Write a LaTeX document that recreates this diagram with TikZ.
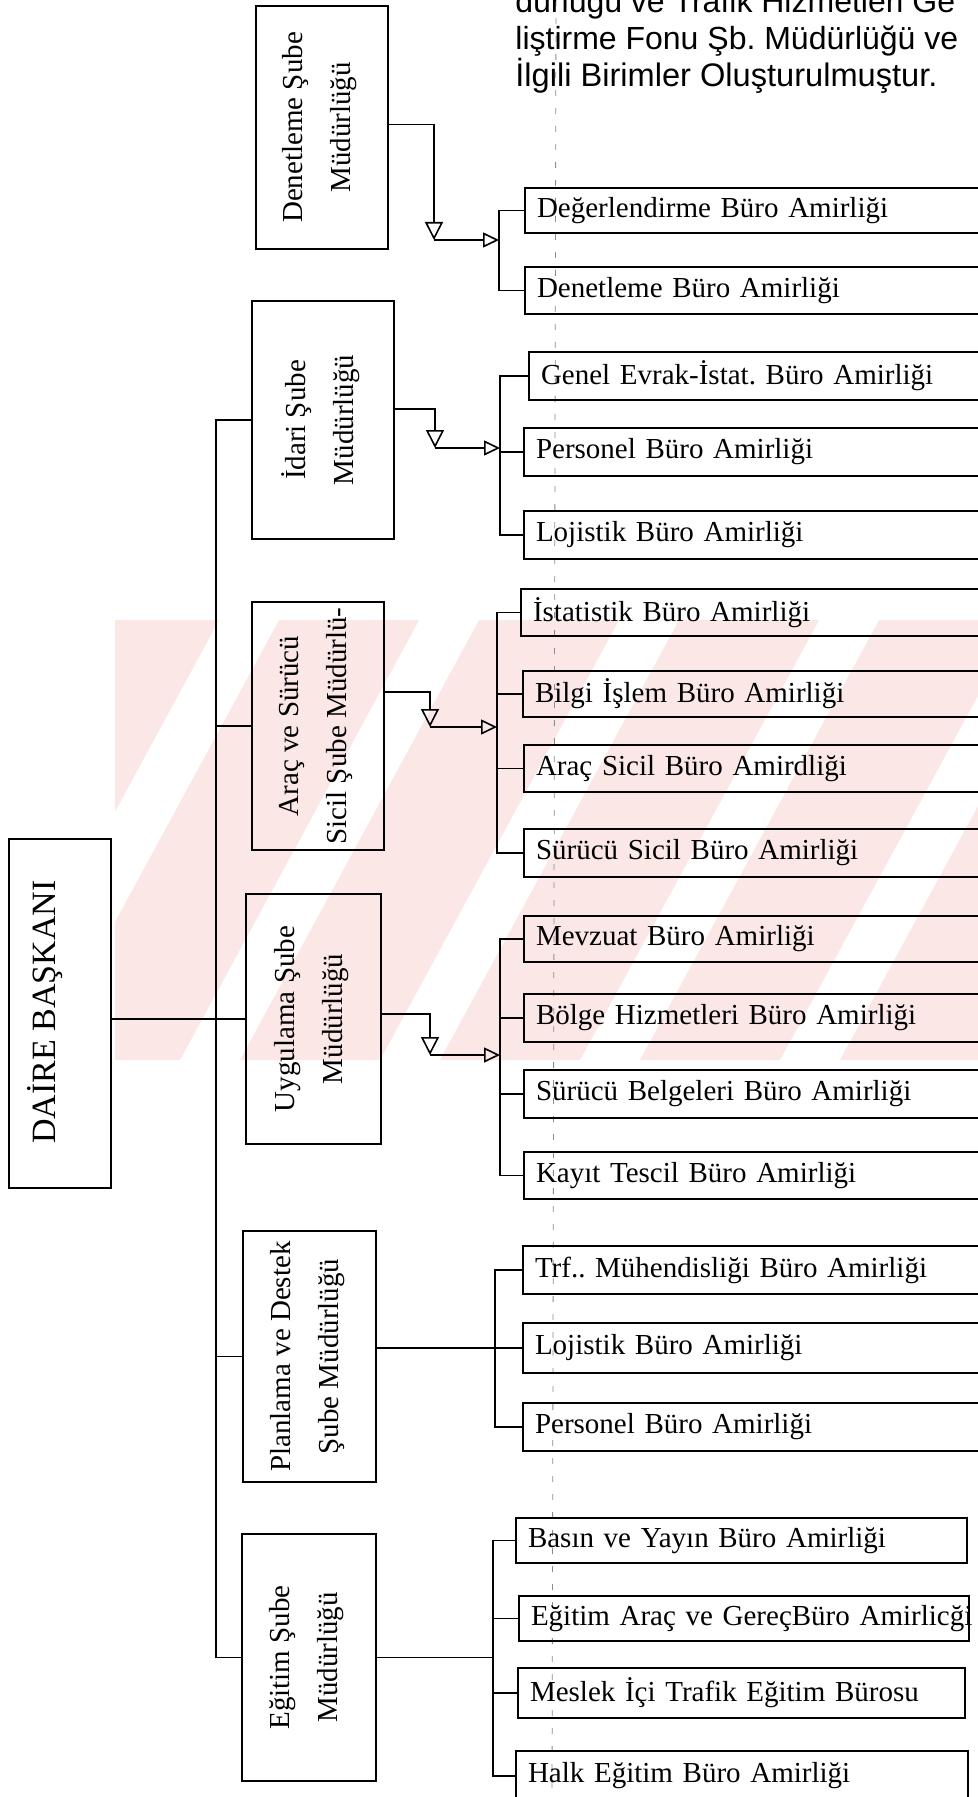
\documentclass[tikz,border=0pt]{standalone}
\usepackage{fontspec}
\setmainfont{Liberation Serif}
\newfontfamily\notefont{Liberation Sans}
\usetikzlibrary{arrows.meta}

\definecolor{wmpink}{RGB}{252,231,231}

% box for a bureau: name, left, top, right, bottom, text
\newcommand\leafbox[6]{%
  \pgfmathsetmacro\lbw{(#4-#2)*0.5}%
  \pgfmathsetmacro\lbh{(#5-#3)*0.5}%
  \pgfmathsetmacro\lbt{(#4-#2)*0.5-12}%
  \node[leaf,minimum width=\lbw pt,minimum height=\lbh pt,text width=\lbt pt] (#1) at (#2,#3) {\mbox{#6}};}

% box for a branch directorate with upright text: name, left, top, right, bottom, text
\newcommand\mgrbox[6]{%
  \pgfmathsetmacro\lbw{(#4-#2)*0.5}%
  \pgfmathsetmacro\lbh{(#5-#3)*0.5}%
  \node[frame,anchor=north west,inner sep=0pt,minimum width=\lbw pt,minimum height=\lbh pt] (#1) at (#2,#3) {};
  \node[mgrtext] (#1-t) at ([xshift=-1pt]#1.center) {#6};}

\begin{document}
\frenchspacing
\begin{tikzpicture}[x=0.5pt,y=-0.5pt,
  frame/.style={draw=black,line width=1pt},
  leaf/.style={frame,anchor=north west,inner xsep=6pt,inner ysep=0pt,align=left,
    font=\fontsize{14.5}{16}\selectfont},
  mgrtext/.style={rotate=90,align=center,inner sep=0pt,font=\fontsize{14.5}{24}\selectfont},
  link/.style={draw=black,line width=0.8pt},
  tipdown/.style={link,-{Triangle[open,length=9pt,width=9pt]}},
  tipright/.style={link,-{Triangle[open,length=8pt,width=7.5pt]}},
  scanline/.style={draw=black!45,line width=0.4pt,dash pattern=on 3pt off 6pt}]

% page
\fill[white] (0,0) rectangle (978,1797);
\useasboundingbox (0,0) rectangle (978,1797);

% faint watermark stripes
\begin{scope}
  \clip (115,620) rectangle (978,1060);
  \foreach \k in {0,...,9} {
    \fill[wmpink] (\k*200-160,1060) -- ++(140,0) -- ++(250,-460) -- ++(-140,0) -- cycle;
  }
\end{scope}

% fold mark of the sheet
\draw[scanline] (556,0) -- (552,1797);

% note at the top
\node[anchor=base west,inner sep=0pt,font=\notefont\fontsize{16}{18}\selectfont] (note1) at (515,13) {dürlüğü ve Trafik Hizmetleri Ge};
\node[anchor=base west,inner sep=0pt,font=\notefont\fontsize{16}{18}\selectfont] (note2) at (515,50) {liştirme Fonu Şb. Müdürlüğü ve};
\node[anchor=base west,inner sep=0pt,font=\notefont\fontsize{16.3}{18}\selectfont] (note3) at (515,87) {İlgili Birimler Oluşturulmuştur.};

% head of department
\node[frame,anchor=north west,inner sep=0pt,minimum width=51pt,minimum height=174.5pt] (D) at (8,838) {};
\node[rotate=90,inner sep=0pt,font=\fontsize{17}{20}\selectfont] (D-t) at (45,1012) {DAİRE BAŞKANI};

% branch directorates
\mgrbox{M1}{255}{5}{387}{248}{Denetleme Şube\\Müdürlüğü}
\mgrbox{M2}{251}{300}{393}{538}{İdari Şube\\Müdürlüğü}
\mgrbox{M3}{251}{601}{383}{849}{Araç ve Sürücü\\Sicil Şube Müdürlü-}
\mgrbox{M4}{245}{893}{380}{1143}{Uygulama Şube\\Müdürlüğü}
\mgrbox{M5}{242}{1230}{375}{1481}{Planlama ve Destek\\Şube Müdürlüğü}
\mgrbox{M6}{241}{1533}{375}{1780}{Eğitim Şube\\Müdürlüğü}

% bureaus
\leafbox{V1}{524}{187}{990}{232}{Değerlendirme Büro Amirliği}
\leafbox{V2}{524}{266}{990}{313}{Denetleme Büro Amirliği}

\leafbox{I1}{528}{351}{990}{399}{Genel Evrak-İstat. Büro Amirliği}
\leafbox{I2}{523}{427}{990}{475}{Personel Büro Amirliği}
\leafbox{I3}{523}{510}{990}{558}{Lojistik Büro Amirliği}

\leafbox{A1}{520}{588}{990}{635}{İstatistik Büro Amirliği}
\leafbox{A2}{522}{670}{990}{716}{Bilgi İşlem Büro Amirliği}
\leafbox{A3}{523}{744}{990}{791}{Araç Sicil Büro Amirdliği}
\leafbox{A4}{523}{828}{990}{876}{Sürücü Sicil Büro Amirliği}

\leafbox{U1}{523}{915}{990}{961}{Mevzuat Büro Amirliği}
\leafbox{U2}{523}{993}{990}{1041}{Bölge Hizmetleri Büro Amirliği}
\leafbox{U3}{523}{1069}{990}{1117}{Sürücü Belgeleri Büro Amirliği}
\leafbox{U4}{523}{1151}{990}{1198}{Kayıt Tescil Büro Amirliği}

\leafbox{P1}{522}{1245}{990}{1293}{Trf.. Mühendisliği Büro Amirliği}
\leafbox{P2}{522}{1322}{990}{1372}{Lojistik Büro Amirliği}
\leafbox{P3}{522}{1402}{990}{1450}{Personel Büro Amirliği}

\leafbox{E1}{515}{1517}{966}{1562}{Basın ve Yayın Büro Amirliği}
\leafbox{E2}{518}{1595}{968}{1640}{Eğitim Araç ve GereçBüro Amirlicği}
\leafbox{E3}{517}{1667}{964}{1717}{Meslek İçi Trafik Eğitim Bürosu}
\leafbox{E4}{515}{1750}{967}{1800}{Halk Eğitim Büro Amirliği}

% spine from the head to the directorates
\coordinate (spine) at (216,0);
\draw[link] (M2.west) -- (M2.west -| spine) -- (M6.west -| spine) -- (M6.west);
\draw[link] (M3.west -| spine) -- (M3.west);
\draw[link] (M5.west -| spine) -- (M5.west);
\draw[link] (D.east |- M4.west) -- (M4.west);

% bracket columns
\coordinate (br1) at (499,0);
\coordinate (br2) at (500,0);
\coordinate (br3) at (497,0);
\coordinate (br4) at (500,0);
\coordinate (br5) at (495,0);
\coordinate (br6) at (493,0);

% bend points of the arrowed feeds
\coordinate (k1) at (434,240);
\coordinate (k2) at (435,448);
\coordinate (k3) at (430,727);
\coordinate (k4) at (430,1055);

% Denetleme
\draw[tipdown] ([yshift=1.5pt]M1.east) -| (k1);
\draw[tipright] (k1) -- (k1 -| br1);
\draw[link] (V1.west) -- (V1.west -| br1) -- (V2.west -| br1) -- (V2.west);

% Idari
\draw[tipdown] ([yshift=5.5pt]M2.east) -| (k2);
\draw[tipright] (k2) -- (k2 -| br2);
\draw[link] (I1.west) -- (I1.west -| br2) -- (I3.west -| br2) -- (I3.west);
\draw[link] (I2.west -| br2) -- (I2.west);

% Arac ve Surucu
\draw[tipdown] ([yshift=17pt]M3.east) -| (k3);
\draw[tipright] (k3) -- (k3 -| br3);
\draw[link] (A1.west) -- (A1.west -| br3) -- (A4.west -| br3) -- (A4.west);
\draw[link] (A2.west -| br3) -- (A2.west);
\draw[link] (A3.west -| br3) -- (A3.west);

% Uygulama
\draw[tipdown] ([yshift=2.5pt]M4.east) -| (k4);
\draw[tipright] (k4) -- (k4 -| br4);
\draw[link] (U1.west) -- (U1.west -| br4) -- (U4.west -| br4) -- (U4.west);
\draw[link] (U2.west -| br4) -- (U2.west);
\draw[link] (U3.west -| br4) -- (U3.west);

% Planlama ve Destek
\draw[link] (M5.east |- P2.west) -- (P2.west);
\draw[link] (P1.west) -- (P1.west -| br5) -- (P3.west -| br5) -- (P3.west);

% Egitim
\draw[link] (M6.east) -- (M6.east -| br6);
\draw[link] (E1.west) -- (E1.west -| br6) -- (E4.west -| br6) -- (E4.west);
\draw[link] (E2.west -| br6) -- (E2.west);
\draw[link] (E3.west -| br6) -- (E3.west);

\end{tikzpicture}
\end{document}
